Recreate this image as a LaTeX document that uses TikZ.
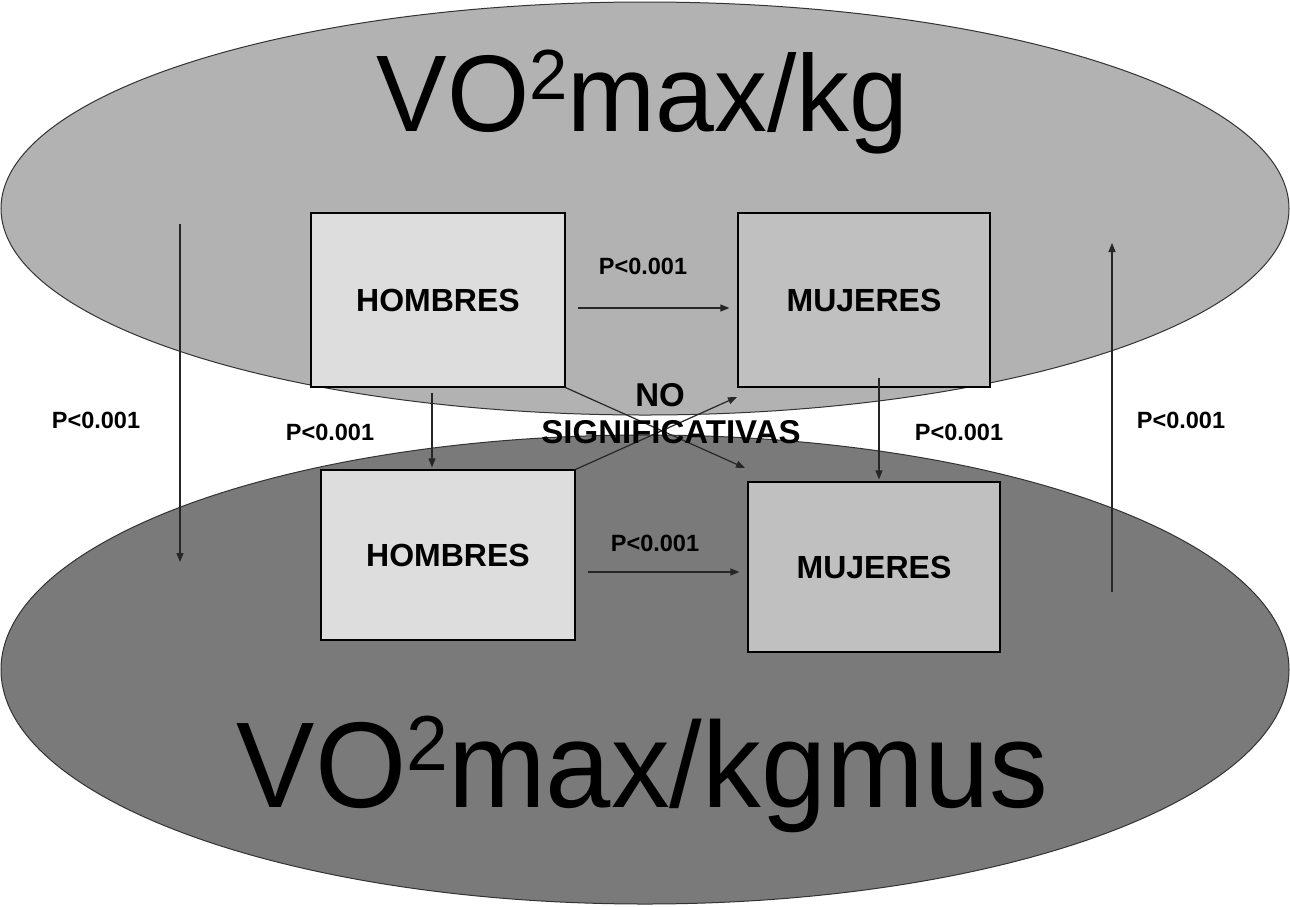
\documentclass[tikz,border=0pt]{standalone}
\usepackage{graphicx}
\usepackage{fontspec}
\setmainfont{Liberation Sans}
\usetikzlibrary{shapes.geometric,arrows.meta,calc}
\definecolor{topgray}{HTML}{B2B2B2}
\definecolor{botgray}{HTML}{7A7A7A}
\definecolor{hgray}{HTML}{DDDDDD}
\definecolor{mgray}{HTML}{C0C0C0}
\begin{document}
\begin{tikzpicture}[x=1pt,y=-1pt,
  ell/.style={ellipse, draw=black!80, line width=1pt, inner sep=0pt},
  box/.style={rectangle, draw=black, line width=1.2pt, inner sep=0pt,
    font=\fontsize{32}{32}\selectfont\bfseries},
  midlab/.style={inner sep=0pt, font=\fontsize{33}{33}\selectfont\bfseries},
  plab/.style={font=\fontsize{23.5}{23.5}\selectfont\bfseries, inner sep=0pt},
  big/.style={inner sep=0pt, anchor=base},
  arr/.style={-{Triangle[length=9pt,width=7pt]}, line width=1.2pt, draw=black!85}]
\useasboundingbox (0,0) rectangle (1290,906);
\fill[white] (0,0) rectangle (1290,906);
% ellipses
\node[ell, fill=topgray, minimum width=1288pt, minimum height=413pt] (eT) at (645,208.5) {};
\node[ell, fill=botgray, minimum width=1288pt, minimum height=469pt] (eB) at (645,669.5) {};
% titles
\node[big] (tT) at (642.5,131) {\scalebox{0.97}[1]{\fontsize{109}{109}\selectfont VO\raisebox{32pt}{\fontsize{71}{71}\selectfont 2}max/kg}};
\node[big] (tB) at (642.5,807) {\scalebox{0.962}[1]{\fontsize{122}{122}\selectfont VO\raisebox{37pt}{\fontsize{78}{78}\selectfont 2}max/kgmus}};
% boxes
\node[box, fill=hgray, minimum width=254pt, minimum height=174pt] (hT) at (438,300) {HOMBRES};
\node[box, fill=mgray, minimum width=252pt, minimum height=174pt] (mT) at (864,300) {MUJERES};
\node[box, fill=hgray, minimum width=254pt, minimum height=170pt] (hB) at (448,555) {HOMBRES};
\node[box, fill=mgray, minimum width=252pt, minimum height=170pt] (mB) at (874,567) {MUJERES};
% helper coordinates
\coordinate (c1) at (432,0);
\coordinate (c2) at (879,0);
\coordinate (x1) at (745,468);
\coordinate (x2) at (737,397);
\coordinate (l1) at (180,224);
\coordinate (l2) at (180,562);
\coordinate (r1) at (1112,592);
\coordinate (r2) at (1112,243);
% connectors
\draw[arr, shorten <=12pt, shorten >=8pt] ([yshift=-8pt]hT.east) -- ([yshift=-8pt]mT.west);
\draw[arr, shorten <=12pt, shorten >=8pt] ([yshift=-17pt]hB.east) -- ([yshift=-5pt]mB.west);
\draw[arr, shorten <=5pt, shorten >=2pt] (hT.south -| c1) -- (hB.north -| c1);
\draw[arr, shorten >=2pt] ($(mT.south -| c2)+(0,-10)$) -- (mB.north -| c2);
\draw[arr] (hT.south east) -- (x1);
\draw[arr] (hB.north east) -- (x2);
\draw[arr] (l1) -- (l2);
\draw[arr] (r1) -- (r2);
% labels
\node[plab] (p1) at (643,266) {P<0.001};
\node[plab] (p2) at (655,543) {P<0.001};
\node[plab] (p3) at (96,420) {P<0.001};
\node[plab] (p4) at (330,432) {P<0.001};
\node[plab] (p5) at (959,432) {P<0.001};
\node[plab] (p6) at (1181,420) {P<0.001};
\node[midlab] (no) at (660,395) {NO};
\node[midlab] (sig) at (671,432) {SIGNIFICATIVAS};
\end{tikzpicture}
\end{document}
